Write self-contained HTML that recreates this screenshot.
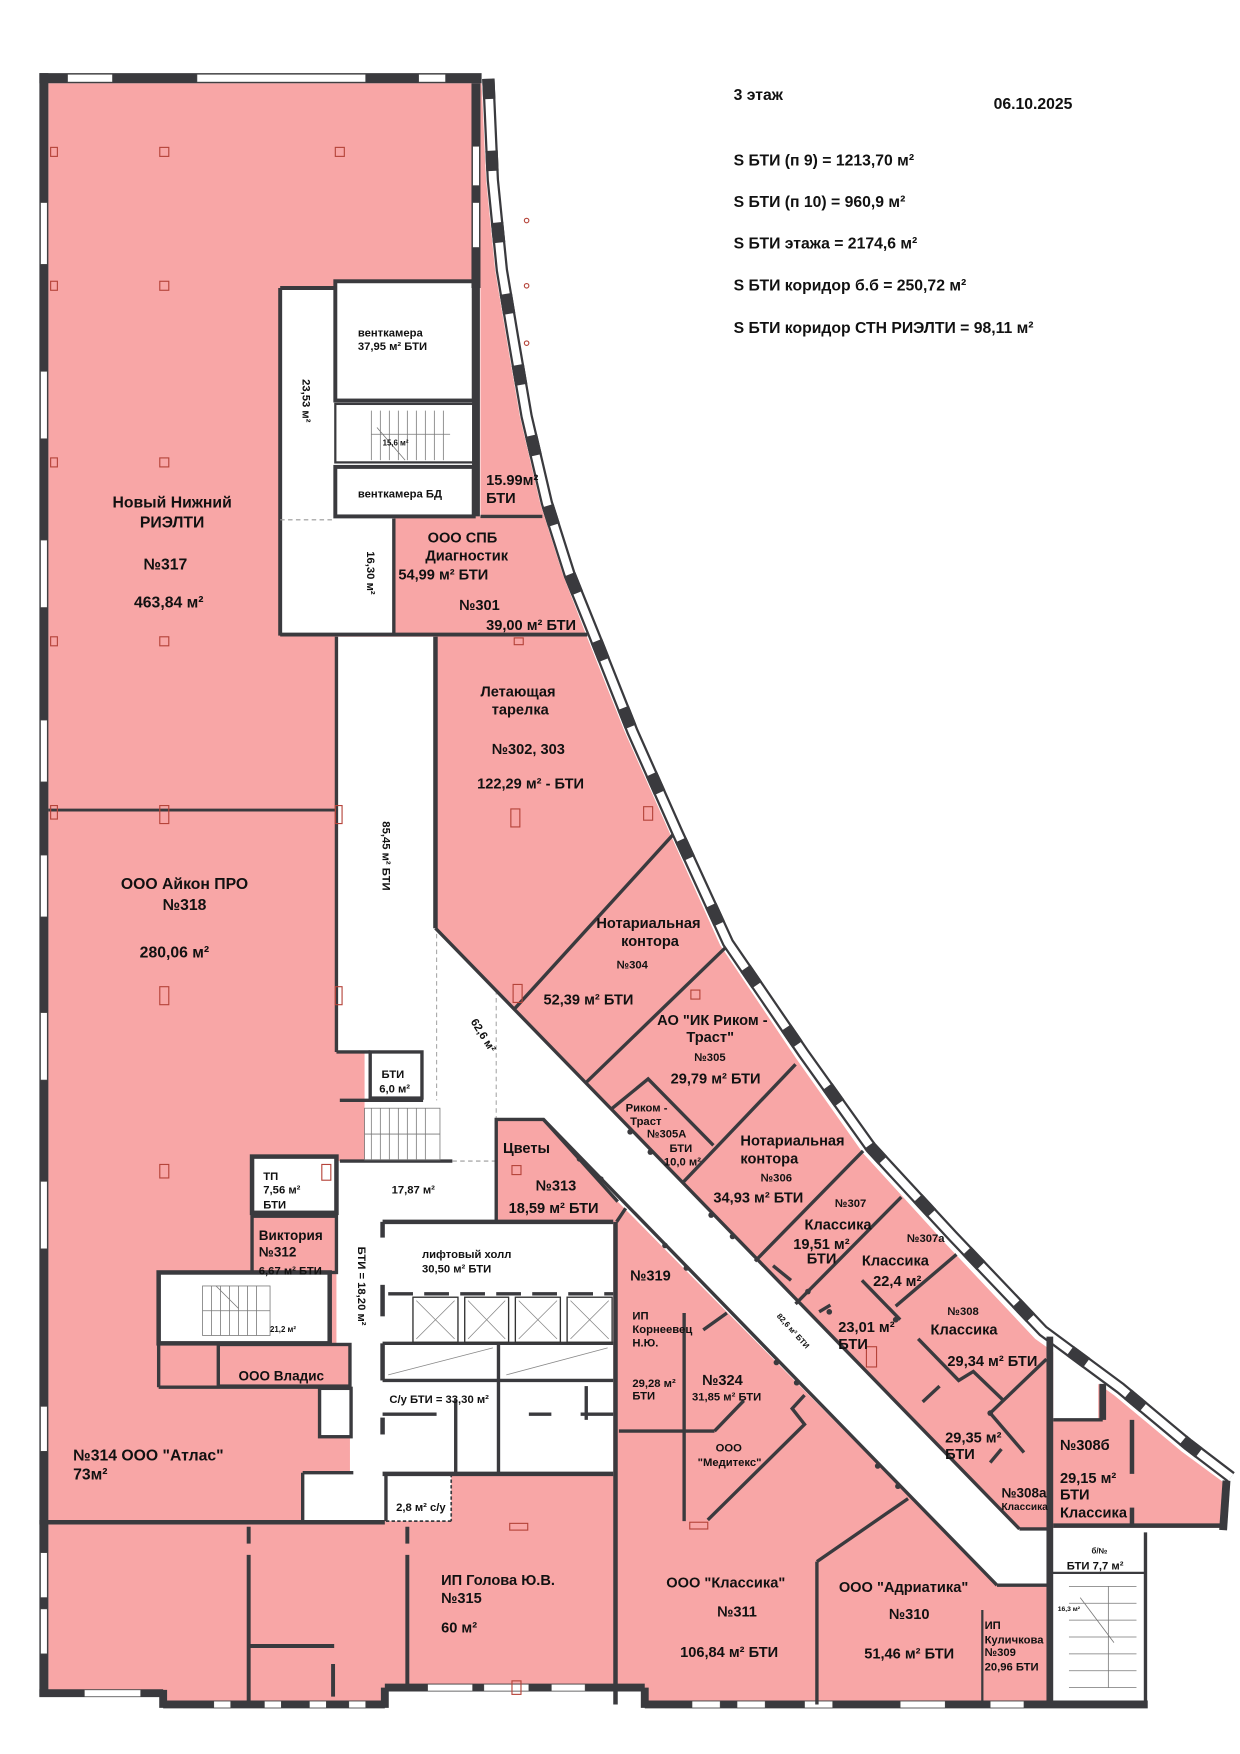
<!DOCTYPE html>
<html><head><meta charset="utf-8"><style>
html,body{margin:0;padding:0;background:#fff;}
svg{display:block}
text{font-family:"Liberation Sans",Arial,sans-serif;font-weight:bold;fill:#111}
</style></head><body>
<svg width="1240" height="1754" viewBox="0 0 1102 1559" preserveAspectRatio="none" xmlns="http://www.w3.org/2000/svg">
<rect width="1102" height="1559" fill="#fff"/>
<!-- pink base -->
<polygon fill="#f8a6a6" points="43,74 428,74 432,160 440,240 450,300 462,370 480,447 500,510 520,562 555,650 595,740 640,840 707,940 767,1025 840,1105 920,1190 990,1240 1050,1290 1088,1318 1085,1358 931,1358 931,1515 573,1515 573,1500 342,1500 342,1515 145,1515 145,1505 43,1505"/>
<!-- white areas -->
<g fill="#fff">
<polygon points="249,256 298,256 298,250 427,250 427,459 350,459 350,563 249,563"/>
<polygon points="299,566 387,566 387,825 906,1359 931,1359 931,1409 886,1409 549,1068 483,995 441,995 441,1086 545,1086 545,1310 401,1310 401,1352 269,1352 269,1309 311,1309 311,1195 299,1195 299,1032 324,1032 324,935 299,935"/>
<rect x="224" y="1028" width="75" height="50"/>
<rect x="141" y="1131" width="152" height="63"/>
<rect x="284" y="1234" width="28" height="43"/>
<rect x="935" y="1362" width="85" height="156"/>
<rect x="936" y="1196" width="40" height="66"/>
</g>
<!-- outer walls -->
<g fill="#3a3a3e">
<rect x="35" y="65" width="8" height="1443"/>
<rect x="35" y="65" width="393" height="9"/>
<rect x="419" y="74" width="8" height="182"/>
</g>
<g fill="#fff" stroke="#444" stroke-width="0.6">
<rect x="60" y="66" width="40" height="7"/><rect x="175" y="66" width="150" height="7"/><rect x="372" y="66" width="24" height="7"/>
<rect x="36" y="180" width="6" height="55"/><rect x="36" y="330" width="6" height="60"/><rect x="36" y="480" width="6" height="60"/><rect x="36" y="640" width="6" height="55"/><rect x="36" y="760" width="6" height="55"/><rect x="36" y="900" width="6" height="60"/><rect x="36" y="1050" width="6" height="60"/><rect x="36" y="1250" width="6" height="40"/><rect x="36" y="1380" width="6" height="40"/><rect x="36" y="1430" width="6" height="40"/>
<rect x="420" y="130" width="6" height="35"/><rect x="420" y="180" width="6" height="40"/>
</g>
<!-- curved wall -->
<g fill="none" stroke-linejoin="round">
<polyline stroke="#3a3a3e" stroke-width="11" points="434,70 438,160 446,240 456,300 468,370 486,447 506,510 527,562 562,650 602,740 647,838 714,936 774,1020 847,1099 927,1183 996,1234 1056,1284 1094,1313"/>
<polyline stroke="#fff" stroke-width="7" points="434,70 438,160 446,240 456,300 468,370 486,447 506,510 527,562 562,650 602,740 647,838 714,936 774,1020 847,1099 927,1183 996,1234 1056,1284 1094,1313"/>
<polyline stroke="#3a3a3e" stroke-width="11" stroke-dasharray="18 46" points="434,70 438,160 446,240 456,300 468,370 486,447 506,510 527,562 562,650 602,740 647,838 714,936 774,1020 847,1099 927,1183 996,1234 1056,1284 1094,1313"/>
</g>
<line x1="1090" y1="1316" x2="1087" y2="1360" stroke="#3a3a3e" stroke-width="7"/>
<!-- bottom walls -->
<g stroke="#3a3a3e" stroke-width="7">
<line x1="35" y1="1505" x2="145" y2="1505"/><line x1="145" y1="1502" x2="145" y2="1518"/>
<line x1="145" y1="1515" x2="342" y2="1515"/><line x1="342" y1="1500" x2="342" y2="1518"/>
<line x1="342" y1="1500" x2="573" y2="1500"/><line x1="573" y1="1500" x2="573" y2="1518"/>
<line x1="573" y1="1515" x2="1020" y2="1515"/>
</g>
<g fill="#fff" stroke="#444" stroke-width="0.5">
<rect x="75" y="1502" width="50" height="6"/><rect x="190" y="1512" width="15" height="6"/><rect x="235" y="1512" width="15" height="6"/><rect x="275" y="1512" width="15" height="6"/><rect x="310" y="1512" width="15" height="6"/>
<rect x="380" y="1497" width="40" height="6"/><rect x="430" y="1497" width="40" height="6"/><rect x="490" y="1497" width="30" height="6"/>
<rect x="615" y="1512" width="25" height="6"/><rect x="655" y="1512" width="25" height="6"/><rect x="715" y="1512" width="25" height="6"/><rect x="800" y="1512" width="40" height="6"/><rect x="880" y="1512" width="30" height="6"/>
</g>
<!-- interior walls -->
<g stroke="#3a3a3e" stroke-width="3.5" fill="none">
<line x1="43" y1="720" x2="300" y2="720" stroke-width="2.5"/>
<line x1="249" y1="256" x2="298" y2="256"/><line x1="249" y1="256" x2="249" y2="565"/>
<line x1="249" y1="564" x2="522" y2="564"/>
<rect x="298" y="250" width="123" height="106"/>
<rect x="298" y="359" width="123" height="52" stroke-width="2"/>
<rect x="298" y="415" width="123" height="44"/>
<line x1="423" y1="250" x2="423" y2="459" stroke-width="7"/>
<line x1="427" y1="459" x2="482" y2="459" stroke-width="3"/>
<line x1="350" y1="461" x2="350" y2="563" stroke-width="3"/>
<line x1="249" y1="462" x2="298" y2="462" stroke="#999" stroke-width="1" stroke-dasharray="4 3"/>
<line x1="387" y1="566" x2="387" y2="825" stroke-width="4"/>
<line x1="299" y1="566" x2="299" y2="935" stroke-width="3"/>
<line x1="299" y1="935" x2="329" y2="935" stroke-width="3"/>
<rect x="329" y="935" width="46" height="41" stroke-width="3"/>
<line x1="302" y1="978" x2="376" y2="978" stroke-width="3"/>
<line x1="302" y1="1032" x2="402" y2="1032" stroke-width="3"/>
<line x1="402" y1="1032" x2="441" y2="1032" stroke="#999" stroke-width="1" stroke-dasharray="4 3"/>
<line x1="388" y1="830" x2="388" y2="978" stroke="#aaa" stroke-width="1" stroke-dasharray="4 3"/>
<line x1="441" y1="880" x2="441" y2="995" stroke="#aaa" stroke-width="1" stroke-dasharray="4 3"/>
<rect x="224" y="1028" width="75" height="50" stroke-width="4"/>
<rect x="224" y="1081" width="75" height="50" stroke-width="3"/>
<rect x="141" y="1131" width="152" height="63" stroke-width="4"/>
<rect x="194" y="1195" width="117" height="37" stroke-width="3"/>
<line x1="141" y1="1194" x2="141" y2="1233" stroke-width="3"/>
<line x1="141" y1="1233" x2="285" y2="1233" stroke-width="3"/>
<rect x="284" y="1234" width="28" height="43" stroke-width="3"/>
<line x1="269" y1="1309" x2="314" y2="1309" stroke-width="3"/>
<line x1="269" y1="1309" x2="269" y2="1352" stroke-width="3"/>
<line x1="35" y1="1353" x2="342" y2="1353" stroke-width="4"/>
<line x1="343" y1="1309" x2="343" y2="1352" stroke-width="3"/>
<line x1="401" y1="1310" x2="401" y2="1352" stroke-width="1.5" stroke-dasharray="3 2"/>
<line x1="343" y1="1352" x2="401" y2="1352" stroke-width="1.5" stroke-dasharray="3 2"/>
<line x1="340" y1="1086" x2="545" y2="1086" stroke-width="4"/>
<line x1="547" y1="1086" x2="547" y2="1515" stroke-width="4"/>
<line x1="340" y1="1086" x2="340" y2="1100" stroke-width="4"/>
<line x1="340" y1="1142" x2="340" y2="1170" stroke-width="4"/>
<line x1="340" y1="1194" x2="340" y2="1227" stroke-width="4"/>
<line x1="340" y1="1260" x2="340" y2="1275" stroke-width="4"/>
<line x1="345" y1="1150" x2="545" y2="1150" stroke-width="3" stroke-dasharray="22 10"/>
<line x1="340" y1="1194" x2="545" y2="1194" stroke-width="3"/>
<line x1="340" y1="1227" x2="545" y2="1227" stroke-width="3"/>
<line x1="443" y1="1194" x2="443" y2="1310" stroke-width="3"/>
<line x1="340" y1="1310" x2="545" y2="1310" stroke-width="4"/>
<line x1="340" y1="1257" x2="388" y2="1257" stroke-width="3"/>
<line x1="405" y1="1244" x2="405" y2="1310" stroke-width="3"/>
<line x1="470" y1="1257" x2="490" y2="1257" stroke-width="3"/>
<line x1="516" y1="1257" x2="545" y2="1257" stroke-width="3"/>
<line x1="521" y1="1232" x2="521" y2="1262" stroke-width="3"/>
<line x1="221" y1="1357" x2="221" y2="1372"/><line x1="221" y1="1382" x2="221" y2="1512"/>
<line x1="221" y1="1463" x2="297" y2="1463"/><line x1="296" y1="1479" x2="296" y2="1508"/>
<line x1="362" y1="1357" x2="362" y2="1372"/><line x1="362" y1="1382" x2="362" y2="1497"/>
<polyline points="441,1086 441,995 483,995 549,1068" stroke-width="3"/>
<line x1="483" y1="995" x2="886" y2="1409" stroke-width="3"/>
<line x1="387" y1="825" x2="906" y2="1359" stroke-width="3"/>
<line x1="906" y1="1359" x2="931" y2="1359" stroke-width="3"/>
<line x1="886" y1="1409" x2="931" y2="1409" stroke-width="3"/>
<line x1="457" y1="897" x2="598" y2="742" stroke-width="3"/>
<line x1="520" y1="963" x2="645" y2="842" stroke-width="3"/>
<polyline points="543,986 576,959 634,1018" stroke-width="3"/>
<line x1="606" y1="1052" x2="707" y2="946" stroke-width="3"/>
<line x1="671" y1="1121" x2="767" y2="1023" stroke-width="3"/>
<line x1="707" y1="1159" x2="801" y2="1064" stroke-width="3"/>
<line x1="687" y1="1125" x2="703" y2="1138" stroke-width="3"/>
<line x1="796" y1="1161" x2="850" y2="1115" stroke-width="3"/>
<line x1="766" y1="1138" x2="800" y2="1173" stroke-width="3"/>
<line x1="728" y1="1166" x2="738" y2="1160" stroke-width="3"/>
<polyline points="816,1190 852,1227 865,1219 891,1244" stroke-width="3"/>
<line x1="880" y1="1256" x2="930" y2="1208" stroke-width="3"/>
<line x1="880" y1="1256" x2="910" y2="1291" stroke-width="3"/>
<line x1="820" y1="1246" x2="835" y2="1232" stroke-width="3"/>
<line x1="880" y1="1300" x2="890" y2="1288" stroke-width="3"/>
<line x1="933" y1="1188" x2="933" y2="1518" stroke-width="6"/>
<line x1="936" y1="1262" x2="980" y2="1262" stroke-width="3"/>
<line x1="980" y1="1230" x2="980" y2="1262" stroke-width="6"/>
<line x1="1006" y1="1262" x2="1006" y2="1310" stroke-width="4"/>
<line x1="1006" y1="1340" x2="1006" y2="1356" stroke-width="4"/>
<line x1="936" y1="1356" x2="1088" y2="1356" stroke-width="4"/>
<line x1="1018" y1="1362" x2="1018" y2="1518" stroke-width="3"/>
<line x1="935" y1="1398" x2="1018" y2="1398" stroke-width="2"/>
<line x1="873" y1="1431" x2="873" y2="1518" stroke-width="2"/>
<line x1="726" y1="1388" x2="807" y2="1332" stroke-width="3"/>
<line x1="726" y1="1388" x2="726" y2="1515" stroke-width="3"/>
<line x1="608" y1="1167" x2="608" y2="1352" stroke-width="3"/>
<line x1="550" y1="1272" x2="635" y2="1272" stroke-width="3"/>
<line x1="635" y1="1272" x2="661" y2="1245" stroke-width="3"/>
<polyline points="629,1351 715,1266 704,1252 715,1240" stroke-width="3"/>
<line x1="625" y1="1182" x2="646" y2="1167" stroke-width="3"/>
<line x1="548" y1="1086" x2="556" y2="1074" stroke-width="3"/>
</g>
<!-- elevators -->
<g fill="#fff" stroke="#333" stroke-width="1.2">
<rect x="367" y="1153" width="40" height="40"/><rect x="413" y="1153" width="39" height="40"/><rect x="458" y="1153" width="40" height="40"/><rect x="504" y="1153" width="40" height="40"/>
</g>
<g stroke="#888" stroke-width="0.7">
<line x1="370" y1="1156" x2="404" y2="1190"/><line x1="404" y1="1156" x2="370" y2="1190"/>
<line x1="416" y1="1156" x2="449" y2="1190"/><line x1="449" y1="1156" x2="416" y2="1190"/>
<line x1="461" y1="1156" x2="495" y2="1190"/><line x1="495" y1="1156" x2="461" y2="1190"/>
<line x1="507" y1="1156" x2="541" y2="1190"/><line x1="541" y1="1156" x2="507" y2="1190"/>
<line x1="345" y1="1222" x2="438" y2="1198"/><line x1="450" y1="1222" x2="540" y2="1198"/>
</g>
<!-- stairs hatching -->
<g stroke="#777" stroke-width="0.7" fill="none">
<rect x="324" y="985" width="67" height="46"/>
<path d="M330 985v46M338 985v46M346 985v46M354 985v46M362 985v46M370 985v46M378 985v46M324 1008h67"/>
<rect x="180" y="1143" width="60" height="44"/>
<path d="M188 1143v44M196 1143v44M204 1143v44M212 1143v44M220 1143v44M228 1143v44M180 1165h60M192 1143l20 20"/>
<path d="M330 365v44M338 365v44M346 365v44M354 365v44M362 365v44M370 365v44M378 365v44M386 365v44M394 365v44M330 386h70M335 380l25 29"/>
<path d="M950 1410h60M950 1425h60M950 1440h60M950 1455h60M950 1470h60M950 1485h60M950 1500h60M985 1410v90M960 1420l30 40"/>
</g>
<!-- column markers -->
<g fill="none" stroke="#b5443a" stroke-width="1">
<rect x="142" y="131" width="8" height="8"/><rect x="298" y="131" width="8" height="8"/><rect x="45" y="131" width="6" height="8"/>
<rect x="142" y="250" width="8" height="8"/><rect x="45" y="250" width="6" height="8"/>
<rect x="142" y="407" width="8" height="8"/><rect x="45" y="407" width="6" height="8"/>
<rect x="142" y="566" width="8" height="8"/><rect x="45" y="566" width="6" height="8"/>
<rect x="142" y="716" width="8" height="16"/><rect x="45" y="716" width="6" height="12"/><rect x="298" y="716" width="6" height="16"/>
<rect x="142" y="877" width="8" height="16"/><rect x="298" y="877" width="6" height="16"/>
<rect x="142" y="1035" width="8" height="12"/><rect x="286" y="1035" width="8" height="14"/>
<rect x="454" y="719" width="8" height="16"/><rect x="572" y="717" width="8" height="12"/>
<rect x="456" y="875" width="8" height="16"/><rect x="614" y="880" width="8" height="8"/>
<rect x="455" y="1036" width="8" height="8"/><rect x="453" y="1354" width="16" height="6"/>
<rect x="770" y="1197" width="9" height="18"/><rect x="613" y="1353" width="16" height="6"/>
<rect x="457" y="567" width="8" height="6"/><rect x="455" y="1494" width="8" height="12"/>
<circle cx="468" cy="196" r="2"/><circle cx="468" cy="254" r="2"/><circle cx="468" cy="305" r="2"/>
</g>
<!-- dots on corridor -->
<g fill="#3a3a3e">
<circle cx="515" cy="1030" r="2.5"/><circle cx="534" cy="1048" r="2.5"/><circle cx="591" cy="1107" r="2.5"/><circle cx="610" cy="1127" r="2.5"/>
<circle cx="690" cy="1211" r="2.5"/><circle cx="708" cy="1229" r="2.5"/><circle cx="780" cy="1303" r="2.5"/><circle cx="798" cy="1321" r="2.5"/>
<circle cx="560" cy="1006" r="2.5"/><circle cx="578" cy="1024" r="2.5"/><circle cx="632" cy="1080" r="2.5"/><circle cx="651" cy="1099" r="2.5"/>
<circle cx="718" cy="1148" r="2.5"/><circle cx="737" cy="1166" r="2.5"/><circle cx="796" cy="1173" r="2.5"/><circle cx="880" cy="1256" r="2.5"/>
</g>
<!-- header text -->
<g font-size="14">
<text x="652" y="89">3 этаж</text>
<text x="883" y="97">06.10.2025</text>
<text x="652" y="147">S БТИ (п 9) = 1213,70 м²</text>
<text x="652" y="184">S БТИ (п 10) = 960,9 м²</text>
<text x="652" y="221">S БТИ этажа  = 2174,6 м²</text>
<text x="652" y="258">S БТИ коридор б.б = 250,72 м²</text>
<text x="652" y="296">S БТИ коридор СТН РИЭЛТИ = 98,11 м²</text>
</g>
<!-- room labels -->
<g font-size="14" text-anchor="middle">
<text x="153" y="451">Новый Нижний</text><text x="153" y="469">РИЭЛТИ</text>
<text x="147" y="506">№317</text><text x="150" y="540">463,84 м²</text>
<text x="164" y="790">ООО Айкон ПРО</text><text x="164" y="809">№318</text><text x="155" y="851">280,06 м²</text>
<text x="645" y="1411" font-size="13">ООО "Классика"</text><text x="655" y="1437" font-size="13">№311</text><text x="648" y="1473" font-size="13">106,84 м² БТИ</text>
<text x="803" y="1415" font-size="13">ООО "Адриатика"</text><text x="808" y="1439" font-size="13">№310</text><text x="808" y="1474" font-size="13">51,46 м² БТИ</text>
</g>
<g font-size="14">
<text x="65" y="1298">№314 ООО "Атлас"</text><text x="65" y="1315">73м²</text>
<text x="392" y="1409" font-size="13">ИП Голова Ю.В.</text><text x="392" y="1425" font-size="13">№315</text><text x="392" y="1451" font-size="13">60 м²</text>
</g>
<g font-size="13">
<text x="427" y="619">Летающая</text><text x="437" y="635">тарелка</text>
<text x="437" y="670">№302, 303</text><text x="424" y="701">122,29 м² - БТИ</text>
<text x="380" y="482">ООО СПБ</text><text x="378" y="498">Диагностик</text>
<text x="354" y="515">54,99 м² БТИ</text><text x="408" y="542">№301</text><text x="432" y="560">39,00 м² БТИ</text>
<text x="432" y="431">15.99м²</text><text x="432" y="447">БТИ</text>
<text x="530" y="825">Нотариальная</text><text x="552" y="841">контора</text>
<text x="483" y="893">52,39 м² БТИ</text>
<text x="584" y="911">АО "ИК Риком -</text><text x="610" y="926">Траст"</text>
<text x="596" y="963">29,79 м² БТИ</text>
<text x="658" y="1018">Нотариальная</text><text x="658" y="1034">контора</text>
<text x="634" y="1069">34,93 м² БТИ</text>
<text x="715" y="1093">Классика</text><text x="705" y="1110">19,51 м²</text><text x="717" y="1123">БТИ</text>
<text x="766" y="1125">Классика</text><text x="776" y="1143">22,4 м²</text>
<text x="745" y="1184">23,01 м²</text><text x="745" y="1199">БТИ</text>
<text x="827" y="1186">Классика</text><text x="842" y="1214">29,34 м² БТИ</text>
<text x="840" y="1282">29,35 м²</text><text x="840" y="1297">БТИ</text>
<text x="942" y="1289">№308б</text><text x="942" y="1318">29,15 м²</text><text x="942" y="1333">БТИ</text><text x="942" y="1349">Классика</text>
<text x="890" y="1331" font-size="12">№308а</text>
<text x="447" y="1025">Цветы</text><text x="476" y="1058">№313</text><text x="452" y="1078">18,59 м² БТИ</text>
<text x="560" y="1138">№319</text><text x="624" y="1231">№324</text>
<text x="230" y="1102" font-size="12">Виктория</text><text x="230" y="1117" font-size="12">№312</text>
<text x="212" y="1227" font-size="12">ООО Владис</text>
</g>
<g font-size="10">
<text x="548" y="861">№304</text><text x="617" y="943">№305</text><text x="676" y="1050">№306</text>
<text x="742" y="1073">№307</text><text x="806" y="1104">№307а</text><text x="842" y="1169">№308</text>
<text x="890" y="1342" font-size="9">Классика</text>
<text x="556" y="988">Риком -</text><text x="560" y="1000">Траст</text><text x="575" y="1011">№305А</text><text x="595" y="1024">БТИ</text><text x="590" y="1036">10,0 м²</text>
<text x="318" y="299">венткамера</text><text x="318" y="311">37,95 м² БТИ</text>
<text x="318" y="442">венткамера БД</text>
<text x="339" y="958">БТИ</text><text x="337" y="971">6,0 м²</text>
<text x="234" y="1049">ТП</text><text x="234" y="1061">7,56 м²</text><text x="234" y="1074">БТИ</text>
<text x="348" y="1061">17,87 м²</text>
<text x="230" y="1133">6,67 м² БТИ</text>
<text x="375" y="1118">лифтовый холл</text><text x="375" y="1131">30,50 м² БТИ</text>
<text x="346" y="1247">С/у БТИ = 33,30 м²</text>
<text x="352" y="1343">2,8 м² с/у</text>
<text x="562" y="1173">ИП</text><text x="562" y="1185">Корнеевец</text><text x="562" y="1197">Н.Ю.</text>
<text x="562" y="1233">29,28 м²</text><text x="562" y="1244">БТИ</text>
<text x="615" y="1245">31,85 м² БТИ</text>
<text x="636" y="1290">ООО</text><text x="620" y="1303">"Медитекс"</text>
<text x="875" y="1448">ИП</text><text x="875" y="1461">Куличкова</text><text x="875" y="1472">№309</text><text x="875" y="1485">20,96 БТИ</text>
<text x="948" y="1395">БТИ 7,7 м²</text>
<text x="970" y="1381" font-size="7">б/№</text>
<text x="240" y="1184" font-size="7" font-weight="normal">21,2 м²</text>
<text x="340" y="396" font-size="7" font-weight="normal">15,6 м²</text>
<text x="940" y="1432" font-size="6" font-weight="normal">16,3 м²</text>
</g>
<g font-size="10">
<text transform="translate(269,337) rotate(90)">23,53 м²</text>
<text transform="translate(326,490) rotate(90)">16,30 м²</text>
<text transform="translate(340,730) rotate(90)">85,45 м² БТИ</text>
<text transform="translate(318,1108) rotate(90)">БТИ = 18,20 м²</text>
<text transform="translate(418,908) rotate(58)">62,6 м²</text>
<text transform="translate(690,1170) rotate(48)" font-size="7" font-weight="normal">82,6 м² БТИ</text>
</g>
</svg>
</body></html>
